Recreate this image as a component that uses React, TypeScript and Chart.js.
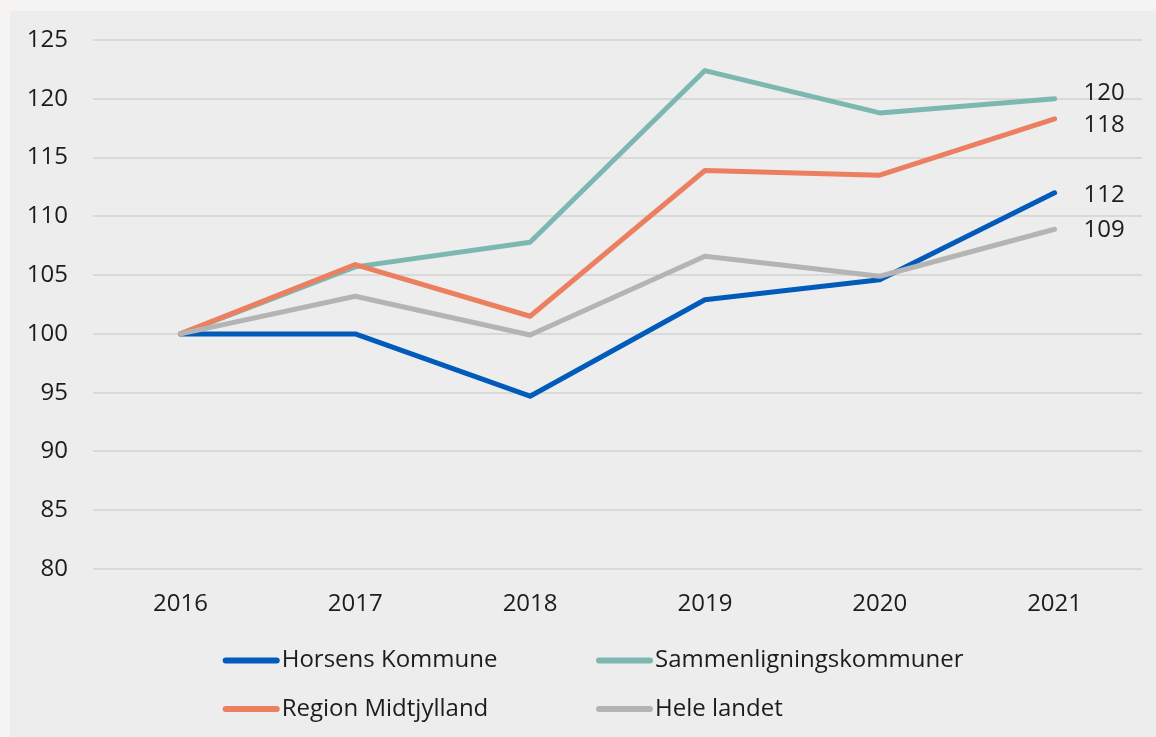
import React, { useEffect, useRef } from "react";
import { Chart, registerables } from "chart.js";

Chart.register(...registerables);

const years = ["2016", "2017", "2018", "2019", "2020", "2021"];
const horsens = [100, 100, 94.7, 102.9, 104.6, 112.0];
const sammen = [100, 105.7, 107.8, 122.4, 118.8, 120.0];
const region = [100, 105.9, 101.5, 113.9, 113.5, 118.3];
const hele = [100, 103.2, 99.9, 106.6, 104.9, 108.9];
const seriesNames = ["Horsens Kommune", "Sammenligningskommuner", "Region Midtjylland", "Hele landet"];
const seriesColors = ["#005bbb", "#7cb8b1", "#eb7f5f", "#b4b4b4"];

const FONT = "'Open Sans', 'Noto Sans', sans-serif";
const TEXT = "#1c1c1c";

const endLabelPlugin = {
  id: "endLabels",
  afterDatasetsDraw(chart: any) {
    const ctx = chart.ctx;
    const dy = [2, -6, 6, 1];
    ctx.save();
    ctx.font = `24px ${FONT}`;
    ctx.fillStyle = TEXT;
    ctx.textAlign = "left";
    ctx.textBaseline = "middle";
    chart.data.datasets.forEach((ds: any, i: number) => {
      const meta = chart.getDatasetMeta(i);
      const pt = meta.data[meta.data.length - 1];
      const v = ds.data[ds.data.length - 1];
      ctx.fillText(String(Math.round(v)), pt.x + 29, pt.y + dy[i]);
    });
    ctx.restore();
  },
};

const legendPlugin = {
  id: "gridLegend",
  afterDraw(chart: any) {
    const ctx = chart.ctx;
    const colX = [212.7, 586];
    const rowY = [chart.chartArea.bottom + 91.5, chart.chartArea.bottom + 140];
    ctx.save();
    ctx.font = `24px ${FONT}`;
    ctx.textAlign = "left";
    ctx.textBaseline = "middle";
    chart.data.datasets.forEach((ds: any, i: number) => {
      const x = colX[i % 2];
      const y = rowY[Math.floor(i / 2)];
      ctx.strokeStyle = ds.borderColor;
      ctx.lineWidth = 6;
      ctx.lineCap = "round";
      ctx.beginPath();
      ctx.moveTo(x + 3, y);
      ctx.lineTo(x + 54, y);
      ctx.stroke();
      ctx.fillStyle = TEXT;
      ctx.fillText(ds.label, x + 59, y);
    });
    ctx.restore();
  },
};

export default function App() {
  const ref = useRef<HTMLCanvasElement | null>(null);
  useEffect(() => {
    if (!ref.current) return;
    const seriesData = [horsens, sammen, region, hele];
    const zOrder = [3, 2, 1, 0];
    const chart = new Chart(ref.current, {
      type: "line",
      data: {
        labels: years,
        datasets: seriesData.map((d, i) => ({
          label: seriesNames[i],
          data: d,
          borderColor: seriesColors[i],
          backgroundColor: seriesColors[i],
          borderWidth: 5,
          pointRadius: 0,
          tension: 0,
          borderJoinStyle: "round" as const,
          borderCapStyle: "round" as const,
          order: zOrder[i],
        })),
      },
      options: {
        responsive: false,
        animation: false,
        layout: { padding: { left: 0, right: 14, top: 29, bottom: 108 } },
        plugins: {
          legend: { display: false },
          tooltip: { enabled: false },
        },
        scales: {
          x: {
            offset: true,
            grid: { display: false, drawTicks: false },
            border: { display: false },
            ticks: { font: { family: FONT, size: 24 }, color: TEXT, padding: 21, maxRotation: 0 },
            afterFit: (s: any) => {
              s.height = 60;
              s.paddingLeft = 0;
              s.paddingRight = 0;
            },
          },
          y: {
            min: 80,
            max: 125,
            ticks: { stepSize: 5, font: { family: FONT, size: 24 }, color: TEXT, padding: 25 },
            grid: { color: "#d9d9d9", lineWidth: 2, drawTicks: false },
            border: { display: false },
            afterFit: (s: any) => {
              s.width = 83;
              s.paddingTop = 0;
              s.paddingBottom = 0;
            },
          },
        },
      },
      plugins: [endLabelPlugin, legendPlugin],
    });
    return () => chart.destroy();
  }, []);

  return (
    <div
      style={{
        position: "fixed",
        left: 0,
        top: 0,
        width: 1156,
        height: 737,
        background: "#f5f4f2",
        overflow: "hidden",
      }}
    >
      <div
        style={{
          position: "absolute",
          left: 10,
          top: 11,
          width: 1146,
          height: 726,
          background: "#ededed",
        }}
      >
        <canvas ref={ref} width={1146} height={726} style={{ display: "block" }} />
      </div>
    </div>
  );
}
